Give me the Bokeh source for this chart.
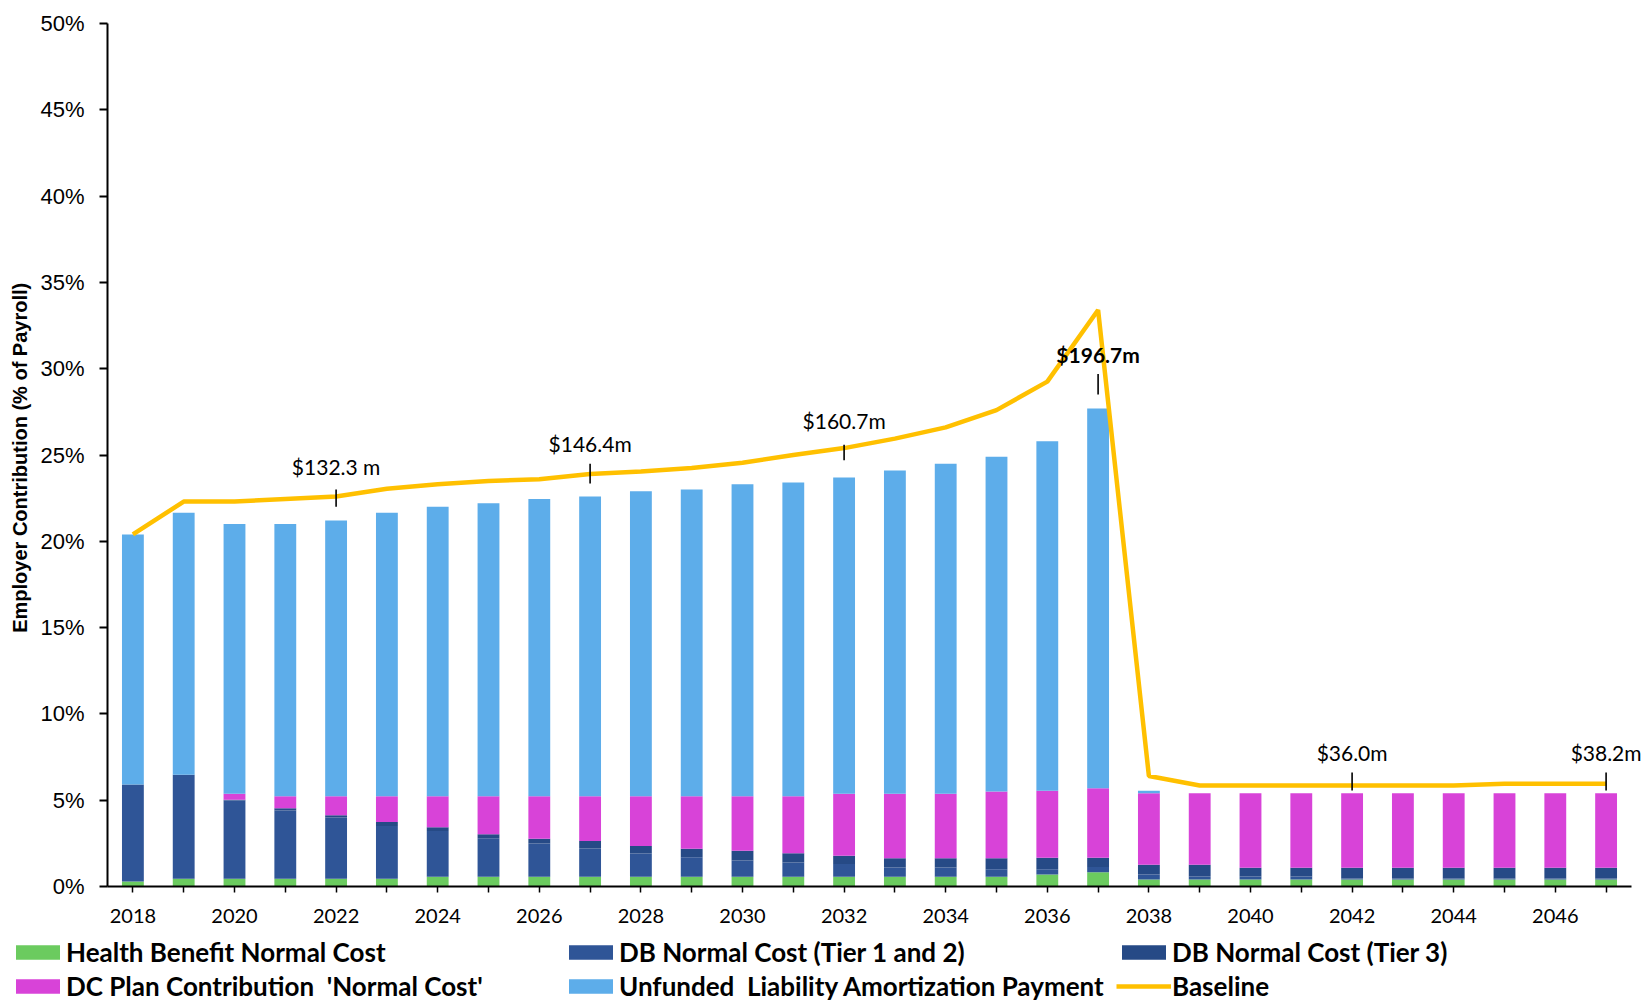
from bokeh.plotting import figure
from bokeh.models import (ColumnDataSource, FixedTicker, PrintfTickFormatter, Legend,
                          LegendItem, LabelSet, Range1d)
from bokeh.core.properties import value
from bokeh.embed import file_html
from bokeh.resources import INLINE

# ---------------- data ----------------
years = list(range(2018, 2048))

health = [0.29, 0.45, 0.45, 0.45, 0.45, 0.45, 0.56, 0.56, 0.56, 0.56, 0.56, 0.56, 0.56, 0.56, 0.56,
          0.56, 0.56, 0.56, 0.70, 0.83, 0.41, 0.41, 0.41, 0.41, 0.41, 0.41, 0.41, 0.41, 0.41, 0.41]
db_tier12 = [5.62, 6.02, 4.53, 3.95, 3.55, 3.05, 2.65, 2.24, 1.93, 1.64, 1.35, 1.14, 0.95, 0.83, 0.75,
             0.54, 0.54, 0.44, 0.30, 0.30, 0.29, 0.17, 0.17, 0.17, 0.05, 0.05, 0.05, 0.05, 0.05, 0.05]
db_tier3 = [0.00, 0.00, 0.05, 0.14, 0.13, 0.23, 0.23, 0.23, 0.27, 0.43, 0.43, 0.48, 0.56, 0.54, 0.47,
            0.54, 0.54, 0.64, 0.67, 0.54, 0.56, 0.68, 0.51, 0.51, 0.63, 0.63, 0.63, 0.63, 0.63, 0.63]
dc_plan = [0.00, 0.00, 0.34, 0.69, 1.10, 1.50, 1.79, 2.20, 2.47, 2.60, 2.89, 3.05, 3.16, 3.30, 3.59,
           3.73, 3.73, 3.86, 3.88, 4.02, 4.14, 4.14, 4.31, 4.31, 4.31, 4.31, 4.31, 4.31, 4.31, 4.31]
unfunded = [14.49, 15.18, 15.63, 15.77, 15.97, 16.42, 16.77, 16.97, 17.22, 17.37, 17.67, 17.77, 18.07,
            18.17, 18.33, 18.73, 19.13, 19.40, 20.25, 22.01, 0.15, 0, 0, 0, 0, 0, 0, 0, 0, 0]
baseline = [20.4, 22.3, 22.3, 22.45, 22.6, 23.05, 23.3, 23.5, 23.6, 23.9, 24.05, 24.25, 24.55, 25.0,
            25.4, 25.95, 26.6, 27.6, 29.25, 33.4, 6.4, 5.85, 5.85, 5.85, 5.85, 5.85, 5.85, 5.95, 5.95, 5.95]

series_names = ["Health Benefit Normal Cost", "DB Normal Cost (Tier 1 and 2)", "DB Normal Cost (Tier 3)",
                "DC Plan Contribution  'Normal Cost'", "Unfunded  Liability Amortization Payment"]
baseline_name = "Baseline"

ann_years = [2022, 2027, 2032, 2037, 2042, 2047]
ann_labels = ["$132.3 m", "$146.4m", "$160.7m", "$196.7m", "$36.0m", "$38.2m"]
ann_tick_lo = [22.0, 23.35, 24.7, 28.5, 5.56, 5.56]
ann_tick_hi = [23.0, 24.5, 25.6, 29.7, 6.6, 6.6]
ann_text_y = [24.33, 25.67, 27.0, 30.8, 7.76, 7.76]
ann_bold = [False, False, False, True, False, False]

y_ticks = [0, 5, 10, 15, 20, 25, 30, 35, 40, 45, 50]

# ---------------- styles ----------------
colors = ["#6BCB5F", "#2F5597", "#264A86", "#D843D8", "#5DADEA"]
line_color = "#FFC000"
W = 1646
PX_PER_YEAR = 50.8
RIGHT_EXTRA = 15 / PX_PER_YEAR

p = figure(width=W, height=935, output_backend="svg", toolbar_location=None,
           x_range=Range1d(years[0] - 0.5, years[-1] + 0.5 + RIGHT_EXTRA), y_range=Range1d(0, 50),
           min_border_left=107, min_border_right=0, min_border_top=23, min_border_bottom=49)
p.outline_line_color = None
p.xgrid.visible = False
p.ygrid.visible = False

src = ColumnDataSource(dict(year=years, health=health, db12=db_tier12, db3=db_tier3,
                            dc=dc_plan, unfunded=unfunded))
stackers = ["health", "db12", "db3", "dc", "unfunded"]
rs = p.vbar_stack(stackers, x="year", width=0.43, fill_color=colors, line_color=None, source=src)

ln = p.line(years, baseline, line_color=line_color, line_width=4.5)

# annotations
ann_src = ColumnDataSource(dict(year=ann_years, lo=ann_tick_lo, hi=ann_tick_hi))
p.segment(x0="year", y0="lo", x1="year", y1="hi", source=ann_src, line_color="black", line_width=1.6)

norm_idx = [i for i, b in enumerate(ann_bold) if not b]
bold_idx = [i for i, b in enumerate(ann_bold) if b]
for idx, style in ((norm_idx, "normal"), (bold_idx, "bold")):
    s = ColumnDataSource(dict(x=[ann_years[i] for i in idx], y=[ann_text_y[i] for i in idx],
                              t=[ann_labels[i] for i in idx]))
    p.add_layout(LabelSet(x="x", y="y", text="t", source=s, text_align="center",
                          text_baseline="middle", text_font=value("Lato"),
                          text_font_size=value("21px"), text_font_style=value(style),
                          text_color=value("black")))

# axes
p.xaxis.bounds = (years[0] - 0.5, years[-1] + 0.5)
p.xaxis.ticker = FixedTicker(ticks=years)
p.xaxis.major_label_overrides = {y: (str(y) if y % 2 == 0 else "") for y in years}
p.xaxis.major_label_text_font = "Lato"
p.xaxis.major_label_text_font_size = "20px"
p.xaxis.major_label_text_color = "black"
p.xaxis.major_label_standoff = 16
p.xaxis.major_tick_in = 0
p.xaxis.major_tick_out = 6
p.xaxis.minor_tick_line_color = None
p.xaxis.axis_line_width = 2
p.xaxis.major_tick_line_width = 1.5
p.xaxis.axis_line_color = "black"
p.xaxis.major_tick_line_color = "black"

p.yaxis.ticker = FixedTicker(ticks=y_ticks)
p.yaxis.formatter = PrintfTickFormatter(format="%d%%")
p.yaxis.major_label_text_font = "Liberation Sans"
p.yaxis.major_label_text_font_size = "22px"
p.yaxis.major_label_text_color = "black"
p.yaxis.major_label_standoff = 15
p.yaxis.major_tick_in = 0
p.yaxis.major_tick_out = 8
p.yaxis.minor_tick_line_color = None
p.yaxis.axis_line_width = 2
p.yaxis.major_tick_line_width = 2
p.yaxis.axis_line_color = "black"
p.yaxis.major_tick_line_color = "black"
p.yaxis.axis_label = "Employer Contribution  (% of Payroll)"
p.yaxis.axis_label_text_font = "Liberation Sans"
p.yaxis.axis_label_text_font_style = "bold"
p.yaxis.axis_label_text_font_size = "20px"
p.yaxis.axis_label_text_color = "black"
p.yaxis.axis_label_standoff = 6

# legend in its own strip below the chart (separate root, so its frame spans the full width)
q = figure(width=W, height=66, output_backend="svg", toolbar_location=None,
           x_range=Range1d(0, 1), y_range=Range1d(0, 1), min_border=0)
q.axis.visible = False
q.xgrid.visible = False
q.ygrid.visible = False
q.outline_line_color = None
# legend-only renderers: their single point lies outside the strip's visible range
off = [-5]
dummy = []
for c in colors:
    dummy.append(q.vbar(x=off, top=off, width=0.1, fill_color=c, line_color=None))
dummy.append(q.line(x=off, y=off, line_color=line_color, line_width=4.5))

items = [LegendItem(label=series_names[i], renderers=[dummy[i]]) for i in range(5)]
items.append(LegendItem(label=baseline_name, renderers=[dummy[5]]))
legend = Legend(items=items, location=(10, -2), orientation="horizontal",
                ncols=3, glyph_width=55, glyph_height=18, label_standoff=1, spacing=0,
                padding=0, margin=0, label_width=497, label_height=34,
                label_text_font="Lato", label_text_font_style="bold", label_text_font_size="26px",
                label_text_color="black", background_fill_alpha=0, border_line_alpha=0)
q.add_layout(legend)

open("out.html", "w").write(file_html([p, q], INLINE))
